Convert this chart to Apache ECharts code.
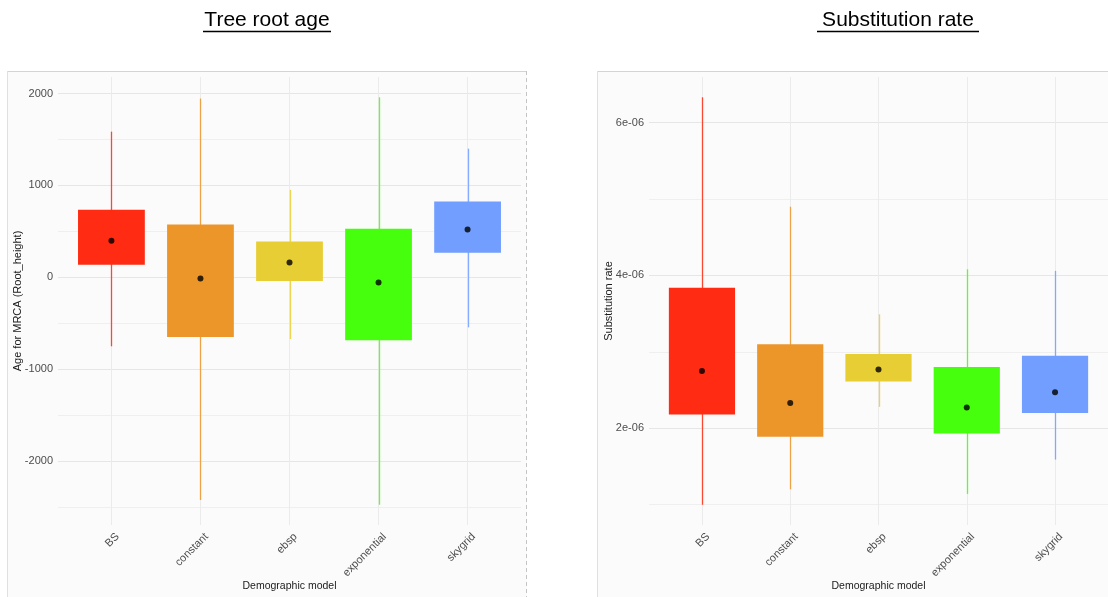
<!DOCTYPE html>
<html>
<head>
<meta charset="utf-8">
<title>Tree root age and substitution rate by demographic model</title>
<script src="https://cdn.jsdelivr.net/npm/echarts@6/dist/echarts.min.js"></script>
<style>
  html, body { margin: 0; padding: 0; background: #ffffff; }
  #chart { width: 1108px; height: 597px; }
</style>
</head>
<body>
<div id="chart"></div>
<script>
// Demographic models compared on the x axis
const categories = ['BS', 'constant', 'ebsp', 'exponential', 'skygrid'];
const boxColors = ['#FF2B12', '#EC962A', '#E8CE35', '#45FF0C', '#719EFF'];

// Tree root age (age for MRCA, Root_height)
const ageWhiskerLow  = [-749, -2421, -670, -2471, -543];
const ageBoxLow      = [138, -648, -40, -684, 268];
const ageBoxHigh     = [735, 575, 391, 528, 825];
const ageWhiskerHigh = [1585, 1947, 952, 1958, 1400];
const ageMean        = [398, -11, 163, -54, 521];

// Substitution rate
const rateWhiskerLow  = [1.00e-6, 1.20e-6, 2.28e-6, 1.14e-6, 1.59e-6];
const rateBoxLow      = [2.18e-6, 1.89e-6, 2.61e-6, 1.93e-6, 2.20e-6];
const rateBoxHigh     = [3.84e-6, 3.10e-6, 2.97e-6, 2.80e-6, 2.95e-6];
const rateWhiskerHigh = [6.33e-6, 4.90e-6, 3.49e-6, 4.08e-6, 4.06e-6];
const rateMean        = [2.75e-6, 2.33e-6, 2.77e-6, 2.27e-6, 2.47e-6];

// Tick positions
const ageTicks = [-2000, -1000, 0, 1000, 2000];
const ageMinorTicks = [-2500, -1500, -500, 500, 1500];
const rateTicks = [2e-6, 4e-6, 6e-6];
const rateMinorTicks = [1e-6, 3e-6, 5e-6];
const categoryTicks = categories.map((c, i) => i);

const FONT = '"Liberation Sans", Arial, sans-serif';

// 5% padding on each side of the data range
function paddedRange(lows, highs) {
  const lo = Math.min(...lows), hi = Math.max(...highs);
  const pad = (hi - lo) * 0.05;
  return [lo - pad, hi + pad];
}
const ageRange = paddedRange(ageWhiskerLow, ageWhiskerHigh);
const rateRange = paddedRange(rateWhiskerLow, rateWhiskerHigh);

function sciLabel(v) {
  const parts = v.toExponential(0).split('e');
  const exp = parseInt(parts[1], 10);
  return parts[0] + 'e' + (exp < 0 ? '-' : '+') + String(Math.abs(exp)).padStart(2, '0');
}

function boxRows(wLo, bLo, bHi, wHi) {
  return categories.map((c, i) => [i, wLo[i], bLo[i], bHi[i], wHi[i]]);
}

function renderBox(params, api) {
  const i = api.value(0);
  const color = boxColors[params.dataIndex];
  const lo = api.coord([i, api.value(1)]);
  const hi = api.coord([i, api.value(4)]);
  const tl = api.coord([i - 0.375, api.value(3)]);
  const br = api.coord([i + 0.375, api.value(2)]);
  const x = Math.round(lo[0]) + 0.5;
  return {
    type: 'group',
    children: [
      { type: 'line', shape: { x1: x, y1: lo[1], x2: x, y2: hi[1] },
        style: { stroke: color, lineWidth: 1.3, opacity: 0.85 } },
      { type: 'rect', shape: { x: tl[0], y: tl[1], width: br[0] - tl[0], height: br[1] - tl[1] },
        style: { fill: color } }
    ]
  };
}

function xAxisFor(gridIndex) {
  return {
    type: 'value', gridIndex: gridIndex, min: -0.6, max: 4.6,
    axisLine: { show: false },
    axisTick: { show: false, customValues: categoryTicks },
    axisLabel: {
      customValues: categoryTicks, rotate: 45, margin: 4,
      verticalAlign: 'top', padding: [3, 0, 0, 0],
      color: '#4d4d4d', fontSize: 11, fontFamily: FONT,
      formatter: v => categories[Math.round(v)]
    },
    splitLine: { show: true, lineStyle: { color: '#ebebeb', width: 1 } },
    name: 'Demographic model', nameLocation: 'middle', nameGap: 56,
    nameMoveOverlap: false,
    nameTextStyle: { color: '#1a1a1a', fontSize: 10.5, fontFamily: FONT }
  };
}

function yAxisPair(gridIndex, range, ticks, minorTicks, title, fmt) {
  return [
    {
      type: 'value', gridIndex: gridIndex, min: range[0], max: range[1],
      axisLine: { show: false },
      axisTick: { show: false, customValues: ticks },
      axisLabel: { customValues: ticks, margin: 5, color: '#4d4d4d', fontSize: 11,
                   fontFamily: FONT, formatter: fmt },
      splitLine: { show: true, lineStyle: { color: '#e6e6e6', width: 1 } },
      name: title, nameLocation: 'middle', nameGap: 35, nameMoveOverlap: false,
      nameTextStyle: { color: '#1a1a1a', fontSize: 11, fontFamily: FONT }
    },
    {
      type: 'value', gridIndex: gridIndex, min: range[0], max: range[1],
      axisLine: { show: false },
      axisTick: { show: false, customValues: minorTicks },
      axisLabel: { show: false },
      splitLine: { show: true, lineStyle: { color: '#efefef', width: 1 } }
    }
  ];
}

const chart = echarts.init(document.getElementById('chart'), null, { renderer: 'canvas' });

chart.setOption({
  animation: false,
  backgroundColor: '#ffffff',
  textStyle: { fontFamily: FONT },
  graphic: {
    elements: [
      // panel backgrounds and frames
      { type: 'rect', z: -100, shape: { x: 7, y: 71, width: 520, height: 540 },
        style: { fill: '#fbfbfb' } },
      { type: 'rect', z: -100, shape: { x: 597, y: 71, width: 520, height: 540 },
        style: { fill: '#fbfbfb' } },
      { type: 'line', z: -99, shape: { x1: 7, y1: 71.5, x2: 527, y2: 71.5 },
        style: { stroke: '#d4d4d4', lineWidth: 1 } },
      { type: 'line', z: -99, shape: { x1: 7.5, y1: 71, x2: 7.5, y2: 597 },
        style: { stroke: '#e0e0e0', lineWidth: 1 } },
      { type: 'line', z: -99, shape: { x1: 526.5, y1: 71, x2: 526.5, y2: 597 },
        style: { stroke: '#c4c4c4', lineWidth: 1, lineDash: [4, 3] } },
      { type: 'line', z: -99, shape: { x1: 597, y1: 71.5, x2: 1108, y2: 71.5 },
        style: { stroke: '#d4d4d4', lineWidth: 1 } },
      { type: 'line', z: -99, shape: { x1: 597.5, y1: 71, x2: 597.5, y2: 597 },
        style: { stroke: '#e0e0e0', lineWidth: 1 } },
      // headings
      { type: 'text', x: 267, y: 10,
        style: { text: 'Tree root age', fontSize: 21, fontFamily: FONT, fill: '#000000',
                 align: 'center', verticalAlign: 'top' } },
      { type: 'line', shape: { x1: 203, y1: 31.5, x2: 331, y2: 31.5 },
        style: { stroke: '#000000', lineWidth: 1.5 } },
      { type: 'text', x: 898, y: 10,
        style: { text: 'Substitution rate', fontSize: 21, fontFamily: FONT, fill: '#000000',
                 align: 'center', verticalAlign: 'top' } },
      { type: 'line', shape: { x1: 817, y1: 31.5, x2: 979, y2: 31.5 },
        style: { stroke: '#000000', lineWidth: 1.5 } }
    ]
  },
  grid: [
    { left: 58, top: 77, width: 463, height: 449 },
    { left: 649, top: 77, width: 463, height: 449 }
  ],
  xAxis: [xAxisFor(0), xAxisFor(1)],
  yAxis: [
    ...yAxisPair(0, ageRange, ageTicks, ageMinorTicks, 'Age for MRCA (Root_height)', v => String(v)),
    ...yAxisPair(1, rateRange, rateTicks, rateMinorTicks, 'Substitution rate', sciLabel)
  ],
  series: [
    {
      type: 'custom', xAxisIndex: 0, yAxisIndex: 0, z: 3,
      renderItem: renderBox, encode: { x: 0, y: [1, 2, 3, 4] },
      data: boxRows(ageWhiskerLow, ageBoxLow, ageBoxHigh, ageWhiskerHigh)
    },
    {
      type: 'scatter', xAxisIndex: 0, yAxisIndex: 0, z: 4,
      symbolSize: 6, itemStyle: { color: '#000000' },
      data: ageMean.map((v, i) => [i, v])
    },
    {
      type: 'custom', xAxisIndex: 1, yAxisIndex: 2, z: 3,
      renderItem: renderBox, encode: { x: 0, y: [1, 2, 3, 4] },
      data: boxRows(rateWhiskerLow, rateBoxLow, rateBoxHigh, rateWhiskerHigh)
    },
    {
      type: 'scatter', xAxisIndex: 1, yAxisIndex: 2, z: 4,
      symbolSize: 6, itemStyle: { color: '#000000' },
      data: rateMean.map((v, i) => [i, v])
    }
  ]
});
</script>
</body>
</html>
